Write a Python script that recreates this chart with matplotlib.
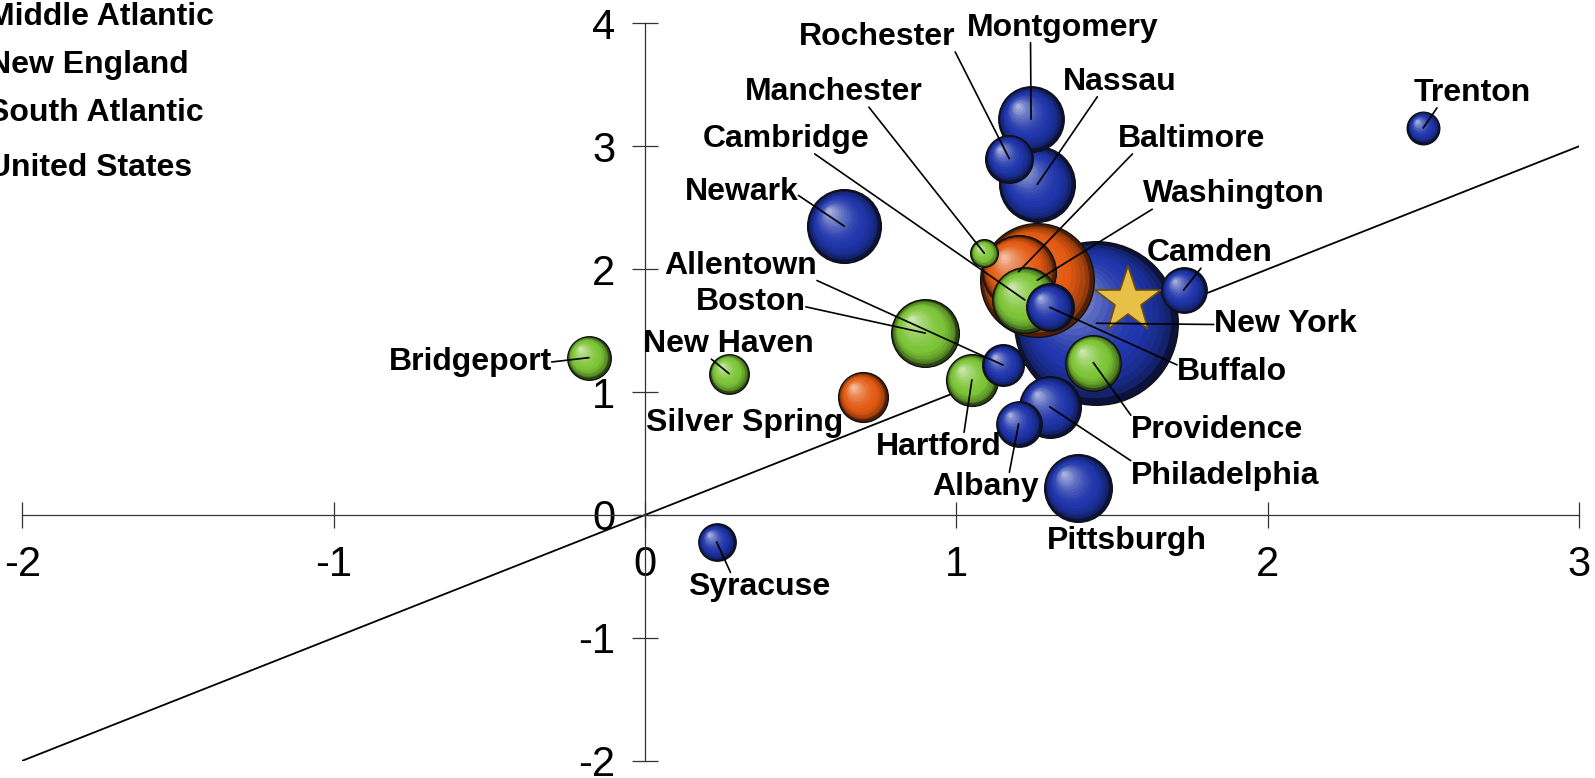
import numpy as np
import matplotlib
matplotlib.use("Agg")
import matplotlib.pyplot as plt
import matplotlib.colors as mcolors
from matplotlib.transforms import offset_copy

# datos de las ciudades (x, y, tamaño de burbuja, región)
ciudades = ["New York", "Washington", "Nassau", "Baltimore", "Newark", "Boston",
            "Pittsburgh", "Montgomery", "Cambridge", "Philadelphia", "Providence",
            "Hartford", "Silver Spring", "Rochester", "Buffalo", "Camden", "Albany",
            "Bridgeport", "Allentown", "New Haven", "Syracuse", "Trenton", "Manchester"]
x_val = [1.45, 1.26, 1.26, 1.20, 0.64, 0.90,
         1.39, 1.24, 1.22, 1.30, 1.44,
         1.05, 0.70, 1.17, 1.30, 1.73, 1.20,
         -0.18, 1.15, 0.27, 0.23, 2.50, 1.09]
y_val = [1.56, 1.91, 2.69, 1.98, 2.35, 1.48,
         0.22, 3.22, 1.75, 0.88, 1.24,
         1.10, 0.96, 2.90, 1.69, 1.83, 0.74,
         1.28, 1.22, 1.15, -0.22, 3.15, 2.13]
tamano = [65.6, 31.4, 13.7, 13.0, 13.0, 10.9,
          10.9, 10.2, 10.2, 9.0, 7.3,
          6.3, 5.8, 5.3, 5.3, 4.8, 4.8,
          4.4, 4.0, 3.6, 3.2, 2.4, 1.7]
region = ["MA", "SA", "MA", "SA", "MA", "NE",
          "MA", "MA", "NE", "MA", "NE",
          "NE", "SA", "MA", "MA", "MA", "MA",
          "NE", "MA", "NE", "MA", "MA", "NE"]
usa_x = [1.55]
usa_y = [1.74]

leyenda = ["Middle Atlantic", "New England", "South Atlantic", "United States"]
ticks_x = [-2, -1, 0, 1, 2, 3]
ticks_y = [-2, -1, 0, 1, 2, 3, 4]

colores = {"MA": "#1f35aa", "NE": "#7cc436", "SA": "#e25a12"}

# posicion de las etiquetas (x, y) y punto de salida de la linea (None = sin linea)
etiquetas = {
    "Rochester": (0.745, 3.89, (1.0, 0.0)), "Montgomery": (1.343, 3.965, (0.33, 0.0)),
    "Nassau": (1.526, 3.525, (0.3, 0.0)), "Manchester": (0.605, 3.44, (0.7, 0.0)),
    "Trenton": (2.657, 3.435, (0.2, 0.0)), "Cambridge": (0.454, 3.06, (0.67, 0.0)),
    "Baltimore": (1.755, 3.06, (0.1, 0.0)), "Washington": (1.892, 2.61, (0.05, 0.0)),
    "Newark": (0.310, 2.625, (1.0, 0.4)), "Camden": (1.814, 2.13, (0.43, 0.0)),
    "Allentown": (0.307, 2.03, (1.0, 0.0)), "Boston": (0.340, 1.73, (1.0, 0.35)),
    "New York": (2.056, 1.55, (0.0, 0.5)), "New Haven": (0.268, 1.39, (0.4, 0.0)),
    "Bridgeport": (-0.562, 1.245, (1.0, 0.5)), "Buffalo": (1.886, 1.16, (0.0, 0.75)),
    "Silver Spring": (0.320, 0.75, None), "Providence": (1.837, 0.69, (0.0, 1.0)),
    "Hartford": (0.944, 0.55, (0.7, 1.0)), "Philadelphia": (1.863, 0.32, (0.0, 1.0)),
    "Albany": (1.095, 0.225, (0.72, 1.0)), "Pittsburgh": (1.549, -0.21, None),
    "Syracuse": (0.366, -0.59, (0.3, 1.0)),
}

DPI = 100
fig = plt.figure(figsize=(15.95, 7.78), dpi=DPI)
ax = fig.add_axes([0.01404, 0.0222, 0.9759, 0.9477])
ax.set_xlim(-2, 3)
ax.set_ylim(-2, 4)

plt.rcParams['font.family'] = ['Liberation Sans', 'DejaVu Sans']

for s in ["top", "right"]:
    ax.spines[s].set_visible(False)
ax.spines["left"].set_position(("data", 0))
ax.spines["bottom"].set_position(("data", 0))
for s in ["left", "bottom"]:
    ax.spines[s].set_linewidth(0.9)
    ax.spines[s].set_color("#333333")
ax.set_xticks(ticks_x)
ax.set_xticklabels([str(t) for t in ticks_x])
ax.set_yticks(ticks_y)
ax.set_yticklabels([str(t) for t in ticks_y])
ax.tick_params(direction="inout", length=19, width=0.9, color="#333333",
               labelsize=30, pad=12)
for lab in ax.get_xticklabels() + ax.get_yticklabels():
    lab.set_family("Liberation Sans")

# linea y = x
ax.plot([-2, 3], [-2, 3], color="black", lw=1.3, zorder=2)


def bola(x, y, r, col, z):
    base = np.array(mcolors.to_rgb(col))
    oscuro = base * 0.35
    claro = base + (1 - base) * 0.6
    d = 2 * (r + 0.8) * 72 / DPI
    ax.scatter([x], [y], s=d**2, color=oscuro * 0.6, edgecolors="#111111",
               linewidths=1.0, zorder=z)
    n = 18
    for k in range(n):
        t = k / (n - 1)
        f = 1 - 0.92 * t
        rr = r * f
        off = (1 - f) * r * 0.45
        if t < 0.3:
            c = oscuro + (base - oscuro) * (t / 0.3) ** 0.5
        else:
            c = base + (claro - base) * ((t - 0.3) / 0.7) ** 1.6
        tr = offset_copy(ax.transData, fig=fig, x=-off, y=off, units="dots")
        ax.scatter([x], [y], s=(2 * rr * 72 / DPI) ** 2, color=np.clip(c, 0, 1),
                   linewidths=0, transform=tr, zorder=z + 0.001 * (k + 1))


orden = np.argsort(tamano)[::-1]
for i, idx in enumerate(orden):
    r = 10 * np.sqrt(tamano[idx])
    bola(x_val[idx], y_val[idx], r, colores[region[idx]], 3 + i * 0.05)

ax.plot(usa_x, usa_y, marker="*", markersize=50, color="#e8c048",
        markeredgecolor="#6b4e0a", markeredgewidth=1.2, zorder=50, ls="none")

for i, nombre in enumerate(ciudades):
    tx, ty, rel = etiquetas[nombre]
    if rel is not None:
        ax.annotate(nombre, xy=(x_val[i], y_val[i]), xytext=(tx, ty),
                    ha="center", va="center", fontsize=23, fontweight="bold",
                    family="Liberation Sans", zorder=100,
                    arrowprops=dict(arrowstyle="-", color="black", lw=1.2,
                                    shrinkA=0, shrinkB=0, patchA=None,
                                    relpos=rel))
    else:
        ax.text(tx, ty, nombre, ha="center", va="center", fontsize=23,
                fontweight="bold", family="Liberation Sans", zorder=100)

# leyenda (cortada por el borde izquierdo)
ley_y = [17, 65, 113, 168]
for nombre, yy in zip(leyenda, ley_y):
    fig.text(-12 / 1595, 1 - yy / 778, nombre, ha="left", va="center",
             fontsize=23, fontweight="bold", family="Liberation Sans")

fig.savefig("out.png", dpi=DPI)
